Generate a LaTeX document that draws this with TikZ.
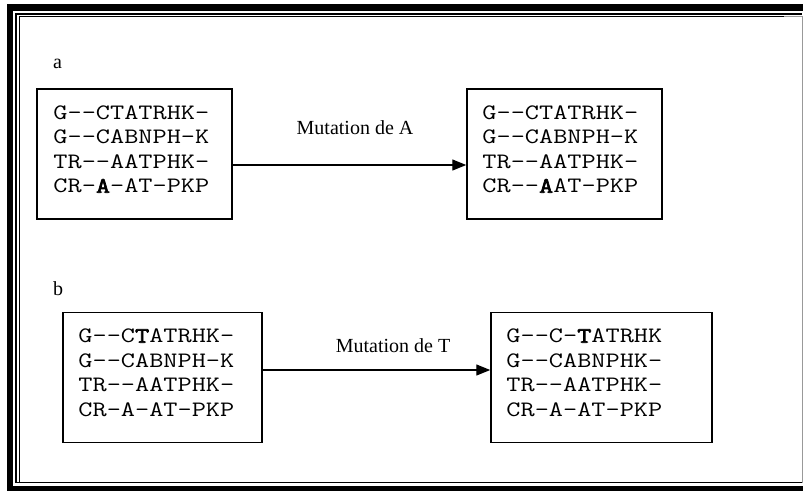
\documentclass[tikz,border=0pt]{standalone}
\usepackage{fontspec}
\setmainfont{Liberation Serif}
\newfontfamily\cour[FakeStretch=1.25]{Latin Modern Mono}
\newfontfamily\courbold[FakeStretch=1.25,FakeBold=3]{Latin Modern Mono}
\newcommand{\bl}[1]{{\courbold #1}}
\usetikzlibrary{arrows.meta,calc}
\begin{document}
\begin{tikzpicture}[x=1pt,y=-1pt,
  seqbox/.style={draw=black,line width=1.5pt,minimum width=#1,minimum height=130pt,inner sep=0pt},
  seqtext/.style={anchor=north west,align=left,inner sep=0pt,font=\cour\fontsize{22}{24.5}\selectfont},
  lbl/.style={font=\fontsize{20}{24}\selectfont,inner sep=0pt},
  arr/.style={line width=1.3pt,-{Triangle[length=14pt,width=11pt]}}]
\useasboundingbox (0,0) rectangle (803,491);
% frame
\fill[black] (7,4) rectangle (13,491);
\fill[black] (7,4) rectangle (803,10.5);
\fill[black] (13,485.5) rectangle (803,491);
\draw[black,line width=1.2pt] (16,482.5) -- (16,14) -- (802,14);
\draw[black,line width=0.8pt] (19,482) -- (19,16.5) -- (790,16.5);
\draw[black!40,line width=1pt] (784,16) -- (802,16) -- (802,482.5);
\draw[black,line width=1.2pt] (16,482.5) -- (802,482.5);
% labels
\node[lbl,anchor=west] (la) at (53,64) {a};
\node[lbl,anchor=west] (lb) at (53,289) {b};
% boxes
\node[seqbox=195pt] (a1) at (134.5,154) {};
\node[seqbox=195pt] (a2) at (564.5,154) {};
\node[seqbox=199pt] (b1) at (162.5,377.5) {};
\node[seqbox=221pt] (b2) at (601.5,377.5) {};
\node[seqtext] (a1t) at ($(a1.north west)+(17,17)$) {G--CTATRHK-\\G--CABNPH-K\\TR--AATPHK-\\CR-\bl{A}-AT-PKP};
\node[seqtext] (a2t) at ($(a2.north west)+(16,17)$) {G--CTATRHK-\\G--CABNPH-K\\TR--AATPHK-\\CR--\bl{A}AT-PKP};
\node[seqtext] (b1t) at ($(b1.north west)+(16,17)$) {G--C\bl{T}ATRHK-\\G--CABNPH-K\\TR--AATPHK-\\CR-A-AT-PKP};
\node[seqtext] (b2t) at ($(b2.north west)+(16,17)$) {G--C-\bl{T}ATRHK\\G--CABNPHK-\\TR--AATPHK-\\CR-A-AT-PKP};
% arrows
\draw[arr] (a1.east |- 0,165) -- (a2.west |- 0,165);
\draw[arr] (b1.east |- 0,370) -- (b2.west |- 0,370);
\node[lbl] (ma) at (355,128) {Mutation de A};
\node[lbl] (mt) at (393,346) {Mutation de T};
\end{tikzpicture}
\end{document}
